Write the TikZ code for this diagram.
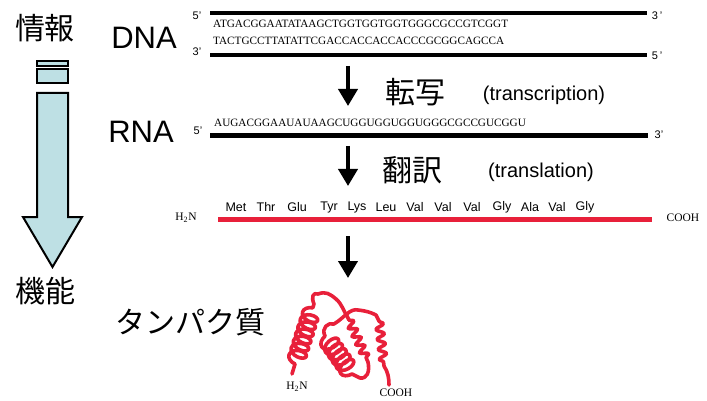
\documentclass[tikz,border=0pt]{standalone}
\usepackage{fontspec}
\setmainfont{Liberation Serif}
\setsansfont{Liberation Sans}
\newfontfamily\jpfont{Noto Sans CJK JP}
\usetikzlibrary{arrows.meta,decorations.pathmorphing}
\definecolor{protred}{HTML}{E8203A}
\definecolor{flowblue}{HTML}{BEE0E4}
\tikzset{
  strand/.style={line width=4.5pt},
  seqtext/.style={font=\fontsize{11.2}{11.2}\selectfont\rmfamily, inner sep=0pt, anchor=west},
  endlabel/.style={font=\fontsize{11}{11}\selectfont\sffamily, inner sep=0pt},
  molname/.style={font=\fontsize{31}{31}\selectfont\sffamily, inner sep=0pt},
  jplabel/.style={font=\fontsize{30}{30}\selectfont\jpfont, inner sep=0pt},
  engnote/.style={font=\fontsize{20}{20}\selectfont\sffamily, inner sep=0pt},
  aalabel/.style={font=\fontsize{12.5}{12.5}\selectfont\sffamily, inner sep=0pt},
  termlabel/.style={font=\fontsize{11.5}{11.5}\selectfont\rmfamily, inner sep=0pt},
  steparrow/.style={line width=4pt, -{Triangle[width=19pt,length=17pt]}},
  chain/.style={protred, line width=3.6pt, line cap=round, line join=round},
}
\begin{document}
\begin{tikzpicture}[x=1pt,y=-1pt]
\useasboundingbox (0,0) rectangle (707,401);

% ---- left: information -> function arrow
\node[jplabel] (info) at (45,28) {情報};
\node[jplabel] (func) at (46,291) {機能};
\draw[line width=2pt, fill=flowblue] (37,61) rectangle (68,66);
\draw[line width=2pt, fill=flowblue] (37,69) rectangle (68,83);
\draw[line width=2pt, fill=flowblue, line join=miter]
  (37,93) -- (68,93) -- (68,217) -- (82,217) -- (52.5,267) -- (23,217) -- (37,217) -- cycle;

% ---- DNA
\node[molname] (dna) at (144,38) {DNA};
\coordinate (d1a) at (210,13);  \coordinate (d1b) at (647,13);
\coordinate (d2a) at (210,55);  \coordinate (d2b) at (647,55);
\draw[strand] (d1a) -- (d1b);
\draw[strand] (d2a) -- (d2b);
\node[endlabel] (d5l) at (197,16) {5'};
\node[endlabel] (d3r) at (657,16) {3\,'};
\node[endlabel] (d3l) at (197,52) {3'};
\node[endlabel] (d5r) at (657,56) {5\,'};
\node[seqtext] (seqa) at (213,24) {ATGACGGAATATAAGCTGGTGGTGGTGGGCGCCGTCGGT};
\node[seqtext] (seqb) at (213,41) {TACTGCCTTATATTCGACCACCACCACCCGCGGCAGCCA};

% ---- transcription
\coordinate (t1) at (348,66);
\coordinate (t2) at (348,106);
\draw[steparrow] (t1) -- (t2);
\node[jplabel] (tsc) at (415,92) {転写};
\node[engnote] (tsce) at (544,95) {(transcription)};

% ---- RNA
\node[molname] (rna) at (141,132) {RNA};
\coordinate (r1) at (210,135.5); \coordinate (r2) at (648,135.5);
\draw[strand] (r1) -- (r2);
\node[endlabel] (r5) at (198,131) {5'};
\node[endlabel] (r3) at (659,135) {3'};
\node[seqtext] (seqr) at (214,123) {AUGACGGAAUAUAAGCUGGUGGUGGUGGGCGCCGUCGGU};

% ---- translation
\coordinate (l1) at (348,146);
\coordinate (l2) at (348,186);
\draw[steparrow] (l1) -- (l2);
\node[jplabel] (tsl) at (412,170) {翻訳};
\node[engnote] (tsle) at (541,172) {(translation)};

% ---- peptide chain
\coordinate (p1) at (218,219); \coordinate (p2) at (652,219);
\draw[protred, line width=5pt] (p1) -- (p2);
\node[termlabel] (pn) at (186,218) {H\textsubscript{2}N};
\node[termlabel] (pc) at (683,218) {COOH};
\foreach \x/\aa [count=\i] in {236/Met,266/Thr,297/Glu,329/Tyr,357/Lys,386/Leu,415/Val,443/Val,472/Val,502/Gly,530/Ala,557/Val,585/Gly}
  \node[aalabel] (aa\i) at (\x,207) {\aa};

% ---- folding
\coordinate (f1) at (348,236);
\coordinate (f2) at (348,278);
\draw[steparrow] (f1) -- (f2);
\node[font=\fontsize{30}{30}\selectfont\jpfont, inner sep=0pt] (prot) at (190,322) {タンパク質};

% ---- folded protein
\coordinate (nterm) at (292,374);
\coordinate (hA1) at (295,364);
\coordinate (hA2) at (314,304);
\coordinate (top1) at (318,294);
\coordinate (top2) at (336,299);
\coordinate (top3) at (347,316);
\coordinate (hB1) at (349,320);
\coordinate (hB2) at (368,362);
\coordinate (bot1) at (360,378);
\coordinate (hC1) at (352,374);
\coordinate (hC2) at (325,336);
\coordinate (mid1) at (334,324);
\coordinate (rt1) at (358,310);
\coordinate (rt2) at (376,315);
\coordinate (hD1) at (379,321);
\coordinate (hD2) at (384,366);
\coordinate (cterm) at (389,385);
\draw[chain] (nterm) -- (hA1);
\draw[chain, decorate, decoration={coil, aspect=0.6, segment length=7.5pt, amplitude=8.5pt}] (hA1) -- (hA2);
\draw[chain] (hA2) .. controls (311,297) and (313,292) .. (top1)
  .. controls (326,291) and (330,294) .. (top2)
  .. controls (342,304) and (344,312) .. (top3) -- (hB1);
\draw[chain, decorate, decoration={snake, amplitude=4pt, segment length=9pt}] (hB1) -- (hB2);
\draw[chain] (hB2) .. controls (370,372) and (367,379) .. (bot1) -- (hC1);
\draw[chain, decorate, decoration={coil, aspect=0.6, segment length=6.5pt, amplitude=9pt}] (hC1) -- (hC2);
\draw[chain] (hC2) .. controls (321,328) and (328,322) .. (mid1)
  .. controls (344,318) and (350,308) .. (rt1)
  .. controls (366,311) and (370,312) .. (rt2) -- (hD1);
\draw[chain, decorate, decoration={snake, amplitude=4pt, segment length=10pt}] (hD1) -- (hD2);
\draw[chain] (hD2) .. controls (388,372) and (389,378) .. (cterm);
\node[termlabel] (fn) at (297,387) {H\textsubscript{2}N};
\node[termlabel] (fc) at (396,393) {COOH};
\end{tikzpicture}
\end{document}
